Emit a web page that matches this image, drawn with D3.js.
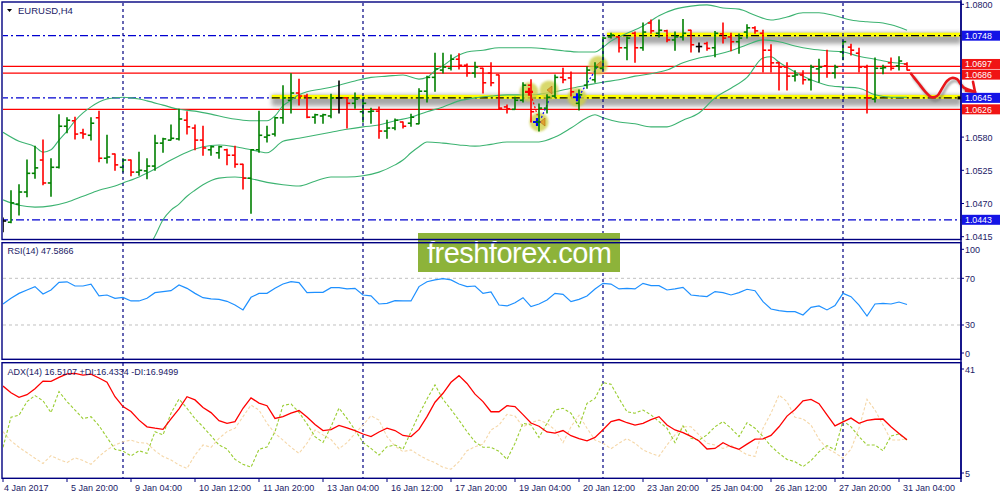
<!DOCTYPE html>
<html><head><meta charset="utf-8">
<script src="https://cdn.jsdelivr.net/npm/d3@7"></script>
<style>
body{margin:0;background:#fff;}
svg{display:block;}
text{font-family:"Liberation Sans",Arial,sans-serif;}
</style>
</head><body>
<svg id="c" width="1000" height="500"></svg>
<script>
// ---------- DATA ----------
const symbolTitle = "EURUSD,H4";
const timeLabels = ["4 Jan 2017","5 Jan 20:00","9 Jan 04:00","10 Jan 12:00","11 Jan 20:00","13 Jan 04:00","16 Jan 12:00","17 Jan 20:00","19 Jan 04:00","20 Jan 12:00","23 Jan 20:00","25 Jan 04:00","26 Jan 12:00","27 Jan 20:00","31 Jan 04:00"];
const labelEvery = 8;           // bars between time labels
const gridBars = [15,45,75,105]; // vertical dashed separators

const opens = [1.0441,1.0439,1.0469,1.0489,1.0520,1.0542,1.0504,1.0530,1.0598,1.0607,1.0587,1.0583,1.0612,1.0545,1.0552,1.0530,1.0542,1.0522,1.0524,1.0532,1.0570,1.0575,1.0577,1.0608,1.0595,1.0575,1.0559,1.0554,1.0559,1.0550,1.0535,1.0512,1.0559,1.0580,1.0585,1.0612,1.0641,1.0653,1.0648,1.0613,1.0615,1.0615,1.0645,1.0645,1.0636,1.0622,1.0622,1.0623,1.0590,1.0595,1.0605,1.0603,1.0602,1.0656,1.0679,1.0691,1.0694,1.0709,1.0699,1.0686,1.0694,1.0686,1.0683,1.0630,1.0626,1.0641,1.0666,1.0605,1.0628,1.0648,1.0679,1.0678,1.0636,1.0666,1.0675,1.0694,1.0746,1.0746,1.0728,1.0752,1.0728,1.0769,1.0752,1.0756,1.0741,1.0746,1.0757,1.0730,1.0735,1.0728,1.0751,1.0746,1.0738,1.0754,1.0761,1.0752,1.0724,1.0703,1.0696,1.0681,1.0683,1.0675,1.0693,1.0698,1.0686,1.0721,1.0729,1.0719,1.0696,1.0643,1.0694,1.0703,1.0698,1.0701];
const highs = [1.0446,1.0491,1.0501,1.0542,1.0565,1.0575,1.0544,1.0617,1.0612,1.0613,1.0593,1.0612,1.0623,1.0583,1.0552,1.0544,1.0542,1.0555,1.0544,1.0583,1.0578,1.0600,1.0626,1.0622,1.0600,1.0598,1.0565,1.0565,1.0560,1.0565,1.0535,1.0559,1.0623,1.0598,1.0613,1.0665,1.0685,1.0676,1.0651,1.0618,1.0618,1.0651,1.0673,1.0645,1.0653,1.0645,1.0628,1.0630,1.0608,1.0610,1.0605,1.0618,1.0660,1.0681,1.0719,1.0719,1.0716,1.0718,1.0701,1.0704,1.0694,1.0703,1.0683,1.0633,1.0646,1.0670,1.0675,1.0635,1.0650,1.0683,1.0694,1.0688,1.0658,1.0696,1.0703,1.0746,1.0752,1.0746,1.0746,1.0754,1.0769,1.0774,1.0774,1.0757,1.0754,1.0775,1.0757,1.0736,1.0737,1.0755,1.0769,1.0752,1.0751,1.0766,1.0763,1.0757,1.0733,1.0704,1.0703,1.0690,1.0690,1.0699,1.0709,1.0724,1.0699,1.0739,1.0734,1.0727,1.0699,1.0711,1.0699,1.0711,1.0713,1.0703];
const lows = [1.0423,1.0438,1.0451,1.0481,1.0512,1.0501,1.0482,1.0529,1.0587,1.0577,1.0578,1.0575,1.0539,1.0537,1.0525,1.0522,1.0516,1.0517,1.0511,1.0525,1.0555,1.0575,1.0575,1.0585,1.0559,1.0550,1.0550,1.0545,1.0534,1.0530,1.0494,1.0454,1.0555,1.0572,1.0582,1.0603,1.0620,1.0633,1.0612,1.0603,1.0603,1.0612,1.0620,1.0595,1.0628,1.0605,1.0603,1.0578,1.0578,1.0592,1.0595,1.0598,1.0602,1.0638,1.0656,1.0686,1.0691,1.0693,1.0681,1.0679,1.0653,1.0665,1.0626,1.0620,1.0626,1.0638,1.0605,1.0590,1.0620,1.0646,1.0670,1.0648,1.0625,1.0661,1.0671,1.0691,1.0744,1.0721,1.0708,1.0704,1.0724,1.0752,1.0746,1.0738,1.0724,1.0741,1.0721,1.0721,1.0724,1.0713,1.0736,1.0723,1.0719,1.0744,1.0752,1.0688,1.0688,1.0658,1.0658,1.0673,1.0668,1.0658,1.0671,1.0679,1.0678,1.0708,1.0716,1.0688,1.0620,1.0638,1.0685,1.0691,1.0691,1.0691];
const closes = [1.0441,1.0471,1.0489,1.0520,1.0529,1.0504,1.0530,1.0598,1.0608,1.0585,1.0585,1.0603,1.0545,1.0547,1.0534,1.0542,1.0522,1.0525,1.0532,1.0570,1.0577,1.0578,1.0610,1.0597,1.0575,1.0562,1.0564,1.0564,1.0550,1.0535,1.0512,1.0559,1.0583,1.0583,1.0612,1.0645,1.0653,1.0648,1.0613,1.0617,1.0617,1.0645,1.0645,1.0636,1.0643,1.0636,1.0623,1.0590,1.0595,1.0608,1.0598,1.0613,1.0656,1.0679,1.0693,1.0696,1.0709,1.0699,1.0686,1.0696,1.0670,1.0670,1.0628,1.0627,1.0641,1.0666,1.0622,1.0628,1.0646,1.0679,1.0675,1.0655,1.0650,1.0691,1.0696,1.0744,1.0749,1.0728,1.0744,1.0728,1.0754,1.0756,1.0757,1.0741,1.0746,1.0752,1.0733,1.0730,1.0727,1.0752,1.0744,1.0738,1.0744,1.0761,1.0756,1.0724,1.0703,1.0696,1.0681,1.0683,1.0675,1.0696,1.0696,1.0686,1.0696,1.0738,1.0724,1.0696,1.0645,1.0694,1.0695,1.0694,1.0706,1.0691];

// Bollinger bands (20): [bar, price]
const bbUpper = [[0,1.0588],[2,1.0573],[4,1.0564],[5,1.0555],[6,1.0559],[7,1.0575],[8,1.0590],[9,1.0607],[10,1.0620],[11,1.0630],[12,1.0638],[13,1.0643],[14,1.0645],[15,1.0646],[16,1.0645],[17,1.0643],[18,1.0640],[20,1.0633],[22,1.0626],[24,1.0623],[26,1.0618],[28,1.0612],[30,1.0608],[32,1.0607],[33,1.0607],[34,1.0615],[35,1.0632],[36,1.0641],[37,1.0650],[38,1.0655],[40,1.0660],[42,1.0666],[44,1.0673],[46,1.0679],[48,1.0681],[50,1.0683],[52,1.0676],[53,1.0679],[54,1.0690],[55,1.0698],[56,1.0708],[57,1.0716],[58,1.0721],[60,1.0724],[62,1.0728],[64,1.0728],[66,1.0728],[68,1.0726],[70,1.0723],[72,1.0721],[74,1.0721],[75,1.0729],[76,1.0739],[77,1.0746],[78,1.0752],[80,1.0764],[82,1.0781],[84,1.0792],[86,1.0797],[88,1.0799],[90,1.0794],[92,1.0792],[94,1.0782],[96,1.0774],[98,1.0779],[100,1.0786],[102,1.0786],[104,1.0781],[106,1.0774],[108,1.0771],[110,1.0769],[111,1.0766],[113,1.0757]];
const bbMiddle = [[0,1.0476],[2,1.0467],[4,1.0464],[6,1.0466],[8,1.0472],[10,1.0482],[12,1.0492],[14,1.0499],[15,1.0504],[17,1.0514],[19,1.0527],[21,1.0542],[23,1.0555],[25,1.0564],[27,1.0567],[29,1.0564],[31,1.0559],[33,1.0554],[35,1.0573],[37,1.0578],[39,1.0583],[41,1.0588],[43,1.0593],[45,1.0597],[47,1.0600],[49,1.0607],[51,1.0613],[53,1.0622],[55,1.0630],[57,1.0640],[59,1.0645],[61,1.0648],[63,1.0650],[65,1.0650],[67,1.0651],[69,1.0655],[71,1.0661],[73,1.0666],[75,1.0671],[77,1.0675],[79,1.0681],[81,1.0685],[83,1.0691],[85,1.0703],[87,1.0711],[89,1.0716],[91,1.0723],[93,1.0733],[95,1.0741],[97,1.0738],[99,1.0731],[101,1.0726],[103,1.0723],[105,1.0721],[107,1.0714],[109,1.0709],[111,1.0704],[113,1.0701]];
const bbLower = [[18,1.0393],[19,1.0416],[20,1.0443],[21,1.0459],[22,1.0469],[23,1.0482],[24,1.0492],[25,1.0501],[27,1.0512],[29,1.0514],[31,1.0511],[33,1.0505],[35,1.0501],[37,1.0499],[39,1.0507],[41,1.0514],[43,1.0514],[45,1.0516],[47,1.0522],[49,1.0534],[50,1.0542],[51,1.0554],[52,1.0564],[53,1.0572],[55,1.0570],[57,1.0567],[59,1.0565],[61,1.0568],[63,1.0572],[65,1.0572],[67,1.0572],[69,1.0580],[71,1.0595],[73,1.0612],[74,1.0617],[75,1.0612],[77,1.0605],[79,1.0602],[81,1.0597],[83,1.0597],[85,1.0608],[87,1.0620],[89,1.0645],[91,1.0661],[93,1.0679],[95,1.0711],[96,1.0713],[97,1.0704],[99,1.0688],[101,1.0675],[103,1.0666],[105,1.0663],[107,1.0661],[109,1.0650],[111,1.0646],[113,1.0646]];

const rsi = [48.0,52.9,57.1,60.0,62.9,56.6,60.0,66.6,67.0,63.4,63.4,64.9,54.9,55.7,52.9,53.7,50.6,50.6,52.9,57.7,58.6,59.4,64.3,61.4,57.1,53.4,52.3,52.0,50.3,47.1,42.9,53.7,57.1,57.1,61.4,65.1,67.1,66.3,57.7,58.0,58.0,62.0,62.0,60.9,61.4,55.7,54.9,48.0,48.6,50.9,50.6,50.6,62.9,67.1,68.6,69.7,68.6,65.1,62.9,63.4,57.1,58.3,47.1,46.3,49.1,53.4,45.7,48.0,51.4,57.1,56.3,50.0,52.0,54.9,60.9,65.7,65.1,60.9,61.4,60.9,65.7,63.7,63.7,60.0,60.9,62.3,55.7,54.9,54.3,58.6,57.7,55.7,57.7,60.6,59.4,50.0,43.7,42.3,41.4,41.4,38.6,45.1,46.3,42.9,46.6,57.1,54.3,47.1,37.7,48.0,48.6,48.0,49.7,47.6];
const rsiLevels = [70,30];
const rsiTicks = ["100","70","30","0"];

const adx = [35.1,32.8,31.2,32.1,34.2,36.8,36.7,38.1,39.3,39.5,38.9,39.2,37.9,36.4,31.4,28.0,26.3,23.3,21.0,20.5,20.1,23.7,27.2,31.4,30.3,27.7,25.9,23.1,22.2,22.8,27.4,31.0,29.2,28.3,23.9,24.5,25.7,26.6,24.4,21.8,19.7,20.0,21.5,20.6,19.7,18.5,17.6,19.2,20.5,19.7,18.0,17.6,20.1,24.5,29.5,32.6,36.4,38.7,36.0,32.3,29.7,26.2,26.2,28.3,28.0,25.2,22.3,21.2,19.2,18.8,19.7,17.9,16.9,16.1,17.3,20.0,22.8,23.5,22.4,21.6,22.2,23.5,24.5,21.6,19.9,19.0,17.7,16.1,13.3,13.5,15.5,14.1,13.2,15.0,16.7,16.8,18.0,21.0,24.7,27.0,30.0,30.5,29.0,25.1,21.3,22.7,24.0,22.2,23.2,23.6,23.7,21.0,18.7,16.5];
const plusDI = [13.9,24.3,25.0,29.7,31.8,30.0,25.9,33.2,29.7,26.8,23.8,24.5,21.4,17.3,13.2,12.6,10.9,12.7,11.8,19.3,18.2,25.7,30.6,27.4,23.8,21.0,17.9,14.7,13.3,9.7,8.0,7.0,13.2,14.0,19.3,28.4,28.9,26.0,22.0,17.6,15.6,21.0,27.5,23.9,19.9,15.6,13.5,11.2,14.1,14.7,13.2,19.3,25.3,30.6,35.5,30.5,27.0,23.3,19.3,15.8,13.9,13.9,12.5,9.7,15.3,22.2,21.6,17.3,22.2,26.8,27.4,25.7,21.0,29.1,30.8,36.3,35.7,30.8,26.2,25.7,26.8,25.1,22.8,20.5,15.5,21.3,17.0,16.4,18.2,21.0,22.8,20.5,17.6,22.4,20.5,17.6,14.3,11.8,9.7,8.9,7.2,9.3,12.3,14.5,13.0,23.1,21.0,17.6,14.7,14.7,12.7,17.8,18.5,16.4];
const minusDI = [19.3,16.1,13.9,12.0,10.1,8.3,11.0,9.7,8.6,10.3,9.3,8.0,10.7,13.0,14.7,15.8,16.4,15.5,15.3,12.7,10.7,9.5,7.8,6.6,11.2,14.7,13.9,17.0,19.3,20.5,24.5,28.5,26.8,22.2,18.7,16.4,13.9,11.8,15.3,19.9,18.2,16.6,13.4,15.5,18.7,21.6,24.8,23.3,17.6,14.3,12.4,13.0,11.2,9.7,8.6,7.0,6.3,8.9,12.7,14.1,15.0,19.9,21.6,25.3,24.7,21.0,22.4,23.3,22.2,19.9,15.5,21.0,25.0,20.5,16.4,15.3,13.4,15.3,16.9,15.3,13.0,11.8,10.8,14.7,18.2,21.0,21.0,18.2,15.3,14.7,13.5,14.6,13.0,11.3,10.7,20.5,25.7,32.0,29.7,24.3,23.7,21.6,16.7,13.5,12.0,10.1,13.2,20.5,30.5,26.8,21.6,16.4,16.4,16.9];
const adxTicks = [41,5];

// visible price-scale labels (others are covered by the object labels)
const priceTicks = [1.0800,1.0580,1.0525,1.0470,1.0415];
const blueLevels = [1.0748,1.0645,1.0443];
const redLevels = [1.0697,1.0686,1.0626];
const yellowLevels = [1.0748,1.0645];
const yellowStartBar = [75.5,33.6];

// trade markers (bar, price, type)
const markerBars = [65.75,68.25,67.0,71.75,74.4];
const markerPrices = [1.0655,1.0658,1.0605,1.0646,1.0699];
const markerTypes = ["sellOpen","close","buyClose","buyOpen","close"];

// forecast sketch
const fcBars = [113.5,114.4,115.3,116.1,116.75,117.4,118.0,118.6,119.25,119.7,120.1];
const fcPrices = [1.0685,1.0670,1.0655,1.0646,1.0648,1.0661,1.0673,1.0678,1.0676,1.0668,1.0662];
const fcArrowTip = [121.5,1.0655];

// ---------- SCALES ----------
const svg = d3.select("#c");
const n = closes.length;
const xS = d3.scaleLinear().domain([0,n-1]).range([3,907]);
const yP = d3.scaleLinear().domain([1.0415,1.0800]).range([236.7,4.3]);
const yR = d3.scaleLinear().domain([0,100]).range([360,243.3]);
const yA = d3.scaleLinear().domain([5,41]).range([473,369]);

const NAVY="#000080", AX="#1a1a66";
const defs = svg.append("defs");
[["cMain",3,3,958,236],["cRsi",3,243,958,116],["cAdx",3,363,958,115]].forEach(c=>{
  defs.append("clipPath").attr("id",c[0]).append("rect").attr("x",c[1]).attr("y",c[2]).attr("width",c[3]).attr("height",c[4]);
});
const f1=defs.append("filter").attr("id","blur2").attr("x","-20%").attr("y","-200%").attr("width","140%").attr("height","500%");
f1.append("feGaussianBlur").attr("stdDeviation",2);
const f2=defs.append("filter").attr("id","blur1").attr("x","-50%").attr("y","-50%").attr("width","200%").attr("height","200%");
f2.append("feGaussianBlur").attr("stdDeviation",1.2);

// ---------- MAIN PANEL ----------
const gm = svg.append("g").attr("clip-path","url(#cMain)");
const xR = 961;

gm.selectAll("line.blue").data(blueLevels).join("line")
  .attr("x1",0).attr("x2",xR).attr("y1",d=>yP(d)).attr("y2",d=>yP(d))
  .attr("stroke","#0000d0").attr("stroke-width",1.2).attr("stroke-dasharray","8,3,2,3");
gm.selectAll("line.red").data(redLevels).join("line")
  .attr("x1",0).attr("x2",xR).attr("y1",d=>yP(d)).attr("y2",d=>yP(d))
  .attr("stroke","#ff0000").attr("stroke-width",1.3);
yellowLevels.forEach((lv,k)=>{
  const x0 = xS(yellowStartBar[k]), y=yP(lv);
  gm.append("rect").attr("x",x0).attr("y",y-3).attr("width",xR-x0).attr("height",11)
    .attr("fill","#8a8a8a").attr("opacity",0.75).attr("filter","url(#blur2)");
  gm.append("rect").attr("x",x0).attr("y",y-3).attr("width",xR-x0).attr("height",4)
    .attr("fill","#ffff00");
  gm.append("line").attr("x1",x0).attr("x2",xR).attr("y1",y).attr("y2",y)
    .attr("stroke","#000").attr("stroke-width",1.3).attr("stroke-dasharray","8,3,2,3");
});

svg.selectAll("line.vg").data(gridBars).join("line")
  .attr("x1",d=>xS(d)).attr("x2",d=>xS(d)).attr("y1",3).attr("y2",478)
  .attr("stroke",NAVY).attr("stroke-width",1.2).attr("stroke-dasharray","3,3");

const bbLine = d3.line().x(d=>xS(d[0])).y(d=>yP(d[1])).curve(d3.curveMonotoneX);
[bbUpper,bbMiddle,bbLower].forEach(b=>{
  gm.append("path").attr("d",bbLine(b)).attr("fill","none").attr("stroke","#3cb371").attr("stroke-width",1.1);
});

const mk = gm.append("g");
markerBars.forEach((b,k)=>{
  const cx=xS(b), cy=yP(markerPrices[k]);
  mk.append("circle").attr("cx",cx).attr("cy",cy).attr("r",9.5).attr("fill","#cfcf4a").attr("opacity",0.8).attr("filter","url(#blur1)");
  const t=markerTypes[k];
  const tri=(x,y)=>mk.append("path").attr("d",`M${x-3},${y} L${x+2},${y-4} L${x+2},${y+4} Z`).attr("fill","#e0a030").attr("stroke","#b07010").attr("stroke-width",0.6);
  const plus=(x,y,c)=>{mk.append("path").attr("d",`M${x-4},${y} H${x+4} M${x},${y-4} V${y+4}`).attr("stroke",c).attr("stroke-width",2.2);};
  if(t==="sellOpen") plus(cx,cy,"#ff0000");
  if(t==="close") tri(cx+1,cy);
  if(t==="buyClose"){plus(cx-2,cy,"#0000ff"); tri(cx+4,cy);}
  if(t==="buyOpen") plus(cx,cy,"#0000ff");
});
const tl=[[[66,1.0650],[66.8,1.0616],"#ff0000"],[[67.3,1.0612],[68.2,1.0640],"#0000ff"],[[72.0,1.0648],[74.2,1.0694],"#0000ff"]];
tl.forEach(s=>gm.append("line").attr("x1",xS(s[0][0])).attr("y1",yP(s[0][1])).attr("x2",xS(s[1][0])).attr("y2",yP(s[1][1]))
  .attr("stroke",s[2]).attr("stroke-width",1.2).attr("stroke-dasharray","2,2"));

const col=(o,c)=> c>o?"#008000":(c<o?"#ff0000":"#000000");
const bars = gm.append("g");
d3.range(n).forEach(i=>{
  const x=xS(i), c=col(opens[i],closes[i]);
  const g=bars.append("g").attr("stroke",c).attr("stroke-width",1.6);
  g.append("line").attr("x1",x).attr("x2",x).attr("y1",yP(highs[i])-0.5).attr("y2",yP(lows[i])+0.5);
  g.append("line").attr("x1",x-3.2).attr("x2",x).attr("y1",yP(opens[i])).attr("y2",yP(opens[i]));
  g.append("line").attr("x1",x).attr("x2",x+3.2).attr("y1",yP(closes[i])).attr("y2",yP(closes[i]));
});

const fcPts = fcBars.map((b,k)=>[xS(b),yP(fcPrices[k])]);
const fcLine = d3.line().curve(d3.curveCatmullRom);
const tip=[xS(fcArrowTip[0]),yP(fcArrowTip[1])];
const fcAll = fcPts.concat([tip]);
const fg = svg.append("g");
fg.append("path").attr("d",fcLine(fcAll)).attr("transform","translate(2,3)").attr("fill","none").attr("stroke","#777").attr("stroke-width",3).attr("opacity",0.6).attr("filter","url(#blur1)");
fg.append("path").attr("d",fcLine(fcAll)).attr("fill","none").attr("stroke","#e8161b").attr("stroke-width",2.6).attr("stroke-linecap","round");
fg.append("path").attr("d",`M${tip[0]-9},${tip[1]-1} L${tip[0]},${tip[1]} L${tip[0]-2},${tip[1]-10}`)
  .attr("fill","none").attr("stroke","#e8161b").attr("stroke-width",2.6).attr("stroke-linecap","round");

svg.append("path").attr("d","M7,9 L12,9 L9.5,12 Z").attr("fill","#000");
svg.append("text").attr("x",18).attr("y",14).attr("font-size",9.5).attr("fill",AX).text(symbolTitle);

// ---------- RSI PANEL ----------
const gr = svg.append("g").attr("clip-path","url(#cRsi)");
gr.selectAll("line.lv").data(rsiLevels).join("line")
  .attr("x1",3).attr("x2",xR).attr("y1",d=>yR(d)).attr("y2",d=>yR(d))
  .attr("stroke","#c0c0c0").attr("stroke-width",1).attr("stroke-dasharray","3,3");
gr.append("path").attr("d",d3.line().x((d,i)=>xS(i)).y(d=>yR(d))(rsi))
  .attr("fill","none").attr("stroke","#1e90ff").attr("stroke-width",1.2);
svg.append("text").attr("x",7.5).attr("y",254).attr("font-size",9).attr("fill",AX).text("RSI(14) 47.5866");

// ---------- ADX PANEL ----------
const ga = svg.append("g").attr("clip-path","url(#cAdx)");
const aLine = d3.line().x((d,i)=>xS(i)).y(d=>yA(d));
ga.append("path").attr("d",aLine(minusDI)).attr("fill","none").attr("stroke","#f5d7a8").attr("stroke-width",1.1).attr("stroke-dasharray","3,2");
ga.append("path").attr("d",aLine(plusDI)).attr("fill","none").attr("stroke","#9acd32").attr("stroke-width",1.1).attr("stroke-dasharray","3,2");
ga.append("path").attr("d",aLine(adx)).attr("fill","none").attr("stroke","#ff0000").attr("stroke-width",1.3);
svg.append("text").attr("x",7.5).attr("y",375).attr("font-size",9).attr("fill",AX).text("ADX(14) 16.5107 +DI:16.4334 -DI:16.9499");

// ---------- WATERMARK ----------
svg.append("rect").attr("x",418).attr("y",233).attr("width",202).attr("height",39).attr("fill","#8db33a");
svg.append("text").attr("x",427).attr("y",263).attr("font-size",29).attr("fill","#fff")
  .attr("font-family","'Open Sans',sans-serif").attr("textLength",185).text("freshforex.com");

// ---------- FRAMES ----------
const frames=[[2,2,239.5],[2,242.7,359.3],[2,362.7,478.3]];
frames.forEach(f=>{
  svg.append("rect").attr("x",f[0]).attr("y",f[1]).attr("width",xR-f[0]).attr("height",f[2]-f[1])
    .attr("fill","none").attr("stroke",NAVY).attr("stroke-width",1.4);
});
svg.append("line").attr("x1",xR).attr("x2",xR).attr("y1",0).attr("y2",482).attr("stroke",NAVY).attr("stroke-width",1.4);

// ---------- PRICE AXIS ----------
const pa = svg.append("g");
priceTicks.forEach(p=>{
  pa.append("line").attr("x1",xR).attr("x2",xR+3).attr("y1",yP(p)).attr("y2",yP(p)).attr("stroke",NAVY);
  pa.append("text").attr("x",965).attr("y",yP(p)+3.5).attr("font-size",9).attr("fill",AX).text(p.toFixed(4));
});
// object labels; the two close red ones are nudged apart just enough to stay readable
const boxes=[[1.0748,"#1414e6",0],[1.0697,"#f01414",-2.5],[1.0686,"#f01414",1.5],[1.0645,"#1414e6",0],[1.0626,"#f01414",0],[1.0443,"#1414e6",0]];
boxes.forEach(b=>{
  const y=yP(b[0])+b[2];
  pa.append("rect").attr("x",962).attr("y",y-5).attr("width",38).attr("height",10).attr("fill",b[1]);
  pa.append("text").attr("x",965).attr("y",y+3.3).attr("font-size",8.8).attr("fill","#fff").text(b[0].toFixed(4));
});
pa.append("rect").attr("x",957.5).attr("y",yP(1.0645)-1.5).attr("width",3).attr("height",3).attr("fill","#000");

const rsiVals=[100,70,30,0], rsiAdj=[6,0,0,-7];
rsiVals.forEach((v,k)=>{
  const y=yR(v)+rsiAdj[k];
  pa.append("line").attr("x1",xR).attr("x2",xR+3).attr("y1",y).attr("y2",y).attr("stroke",NAVY);
  pa.append("text").attr("x",965).attr("y",y+3.5).attr("font-size",9).attr("fill",AX).text(rsiTicks[k]);
});
adxTicks.forEach(v=>{
  pa.append("line").attr("x1",xR).attr("x2",xR+3).attr("y1",yA(v)).attr("y2",yA(v)).attr("stroke",NAVY);
  pa.append("text").attr("x",965).attr("y",yA(v)+3.5).attr("font-size",9).attr("fill",AX).text(String(v));
});

// ---------- TIME AXIS ----------
timeLabels.forEach((t,k)=>{
  const x=xS(k*labelEvery);
  svg.append("line").attr("x1",x).attr("x2",x).attr("y1",478).attr("y2",482).attr("stroke",NAVY);
  svg.append("text").attr("x",k===0?x+1:x+4).attr("y",491).attr("font-size",9).attr("fill",AX).text(t);
});
</script>
</body></html>
